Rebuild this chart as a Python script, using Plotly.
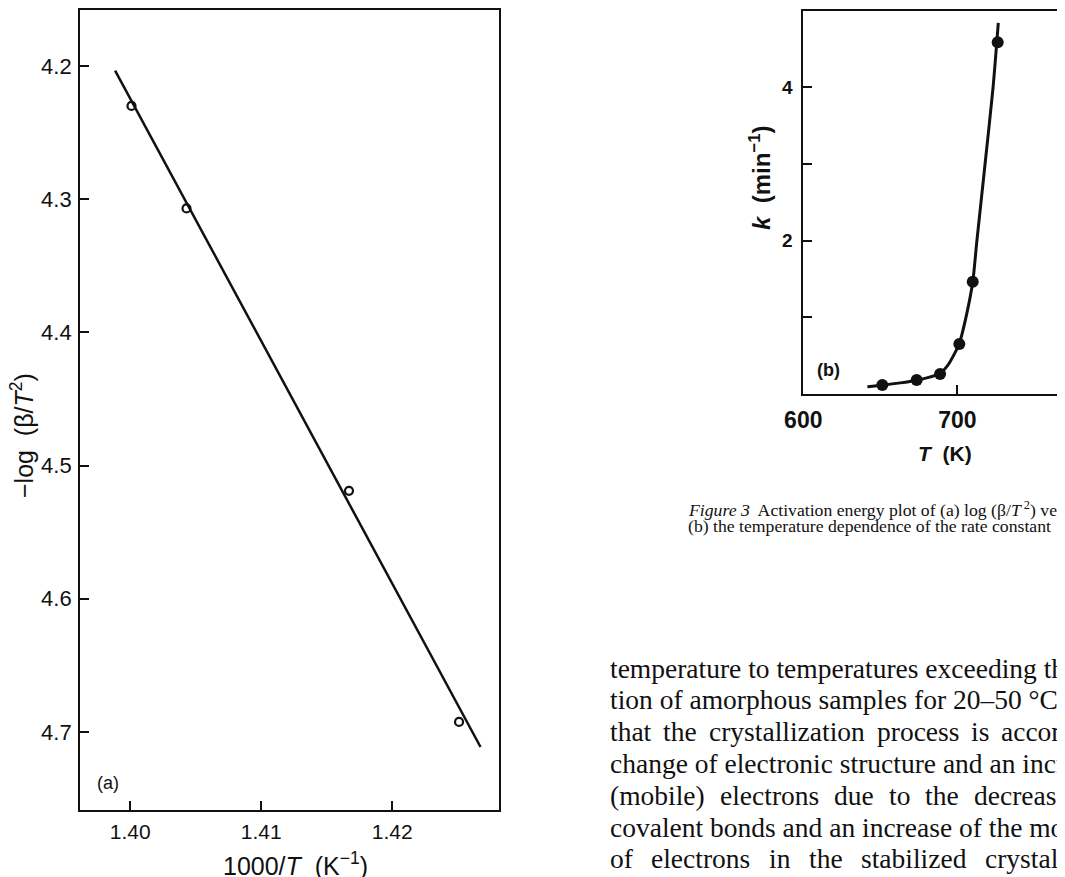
import plotly.graph_objects as go

# window is 1065x877; the page body has an 8px margin, so the figure is drawn
# 8px in from the top-left and sized to fill the rest of the window
WIN_W, WIN_H = 1065, 877
OFF = 8
W, H = WIN_W - OFF, WIN_H - OFF

# ---- data: panel (a) ----
a_x = [1.4001, 1.4043, 1.4167, 1.4251]
a_y = [4.230, 4.307, 4.519, 4.6925]
a_fit_x = [1.39885, 1.42674]
a_fit_y = [4.2035, 4.7113]
a_xticks = [1.40, 1.41, 1.42]
a_xticklabels = ["1.40", "1.41", "1.42"]
a_yticks = [4.2, 4.3, 4.4, 4.5, 4.6, 4.7]
a_yticklabels = ["4.2", "4.3", "4.4", "4.5", "4.6", "4.7"]

# ---- data: panel (b) ----
b_T = [651.3, 673.6, 688.8, 701.3, 710.0, 726.2]
b_k = [0.117, 0.183, 0.261, 0.652, 1.465, 4.587]
b_curve_T = [641.6, 651.3, 663, 673.6, 682, 688.8, 694, 698, 701.3, 705.5, 710.0, 712.6, 718.0, 723.2, 726.6]
b_curve_k = [0.095, 0.115, 0.145, 0.18, 0.22, 0.27, 0.38, 0.52, 0.66, 0.99, 1.46, 1.98, 3.0, 4.0, 4.84]
b_xticks = [600, 700]
b_xticklabels = ["600", "700"]
b_yticks = [2, 4]
b_yticklabels = ["2", "4"]
b_yminor = [1, 3]

caption = [
    "<i>Figure 3</i>  Activation energy plot of (a) log (β/<i>T</i><sup> 2</sup>) versus",
    "(b) the temperature dependence of the rate constant",
]
body_lines = [
    "temperature to temperatures exceeding the",
    "tion of amorphous samples for 20–50 °C",
    "that the crystallization process is accompanied",
    "change of electronic structure and an increase",
    "(mobile) electrons due to the decrease",
    "covalent bonds and an increase of the mobility",
    "of electrons in the stabilized crystalline",
]

# ---- layout (pixel positions in the window) ----
BODY_X, BODY_Y0, BODY_DY, BODY_FS = 608, 668, 31.8, 27.5
# justified lines: line index -> word gap in px
JUSTIFY = {2: 12.0, 4: 15.0, 6: 18.5}

# Times / Liberation Serif advance widths (per 1000 em) for spacing words
TIMES = {
    'a': 444, 'b': 500, 'c': 444, 'd': 500, 'e': 444, 'f': 333, 'g': 500,
    'h': 500, 'i': 278, 'j': 278, 'k': 500, 'l': 278, 'm': 778, 'n': 500,
    'o': 500, 'p': 500, 'q': 500, 'r': 333, 's': 389, 't': 278, 'u': 500,
    'v': 500, 'w': 722, 'x': 500, 'y': 500, 'z': 444, '(': 333, ')': 333,
}


def word_width(word, size):
    return sum(TIMES.get(ch, 500) for ch in word) * size / 1000.0


def px(x):
    return (x - OFF) / W


def py(y):
    return 1 - (y - OFF) / H


SANS = "Liberation Sans, Arial, sans-serif"
SERIF = "Liberation Serif, Times New Roman, serif"
INK = "#111111"

fig = go.Figure()

fig.add_trace(go.Scatter(x=a_fit_x, y=a_fit_y, mode="lines",
                         line=dict(color=INK, width=2.5),
                         xaxis="x", yaxis="y", showlegend=False))
fig.add_trace(go.Scatter(x=a_x, y=a_y, mode="markers",
                         marker=dict(symbol="circle-open", size=8, color=INK,
                                     line=dict(width=2.2, color=INK)),
                         xaxis="x", yaxis="y", showlegend=False))

fig.add_trace(go.Scatter(x=b_curve_T, y=b_curve_k, mode="lines",
                         line=dict(color=INK, width=3, shape="spline", smoothing=0.7),
                         xaxis="x2", yaxis="y2", showlegend=False))
fig.add_trace(go.Scatter(x=b_T, y=b_k, mode="markers",
                         marker=dict(symbol="circle", size=12, color=INK),
                         xaxis="x2", yaxis="y2", showlegend=False))

axcommon = dict(showgrid=False, zeroline=False, ticks="inside", ticklen=9,
                tickwidth=1.8, tickcolor=INK, showline=True, linecolor=INK,
                linewidth=1.8, automargin=False)

fig.update_layout(
    width=W, height=H,
    margin=dict(l=0, r=0, t=0, b=0, autoexpand=False),
    paper_bgcolor="white", plot_bgcolor="white",
    xaxis=dict(domain=[px(80), px(499)], range=[1.39617, 1.42815],
               tickvals=a_xticks, ticktext=a_xticklabels, mirror=True,
               tickfont=dict(family=SANS, size=21, color=INK), anchor="y",
               ticklabelstandoff=2, **axcommon),
    yaxis=dict(domain=[py(810), py(10)], range=[4.7586, 4.158],
               tickvals=a_yticks, ticktext=a_yticklabels, mirror=True,
               tickfont=dict(family=SANS, size=22, color=INK), anchor="x",
               ticklabelstandoff=2, **axcommon),
    xaxis2=dict(domain=[px(803.3), 1.0], range=[600, 769.9],
                tickvals=b_xticks, ticktext=b_xticklabels, mirror=True,
                tickfont=dict(family=SANS, size=23, color=INK, weight="bold"),
                anchor="y2", ticklabelstandoff=4, **axcommon),
    yaxis2=dict(domain=[py(394), py(10.7)], range=[0, 5.0],
                tickvals=b_yticks, ticktext=b_yticklabels, mirror=False,
                minor=dict(tickvals=b_yminor, ticks="inside", ticklen=9,
                           tickwidth=1.8, tickcolor=INK, showgrid=False),
                tickfont=dict(family=SANS, size=19, color=INK, weight="bold"),
                anchor="x2", ticklabelstandoff=5, **axcommon),
)

ann = []
ann.append(dict(text="−log  (β/<i>T</i><sup>2</sup>)", x=px(22), y=py(436),
                textangle=-90, font=dict(family=SANS, size=25, color=INK)))
ann.append(dict(text="1000/<i>T</i>  (K<sup>−1</sup>)", x=px(295), y=py(864),
                font=dict(family=SANS, size=25, color=INK)))
ann.append(dict(text="(a)", x=px(108), y=py(783),
                font=dict(family=SANS, size=18, color=INK)))
ann.append(dict(text="<b><i>k</i>  (min<sup>−1</sup>)</b>", x=px(760), y=py(178),
                textangle=-90, font=dict(family=SANS, size=24, color=INK)))
ann.append(dict(text="<b><i>T</i>  (K)</b>", x=px(945), y=py(453),
                font=dict(family=SANS, size=21, color=INK)))
ann.append(dict(text="<b>(b)</b>", x=px(828), y=py(370),
                font=dict(family=SANS, size=18, color=INK)))

for i, line in enumerate(caption):
    ann.append(dict(text=line, x=px(686), y=py(509 + 16.5 * i), xanchor="left",
                    font=dict(family=SERIF, size=17.7, color=INK)))

for i, line in enumerate(body_lines):
    yy = py(BODY_Y0 + BODY_DY * i)
    if i in JUSTIFY:
        gap = JUSTIFY[i]
        wx = BODY_X
        for word in line.split(" "):
            if wx >= WIN_W:
                break
            ann.append(dict(text=word, x=px(wx), y=yy, xanchor="left",
                            font=dict(family=SERIF, size=BODY_FS, color=INK)))
            wx += word_width(word, BODY_FS) + gap
    else:
        ann.append(dict(text=line, x=px(BODY_X), y=yy, xanchor="left",
                        font=dict(family=SERIF, size=BODY_FS, color=INK)))

for a in ann:
    a.setdefault("xanchor", "center")
    a.update(xref="paper", yref="paper", yanchor="middle", showarrow=False)

fig.update_layout(annotations=ann)
fig.write_html("out.html")
